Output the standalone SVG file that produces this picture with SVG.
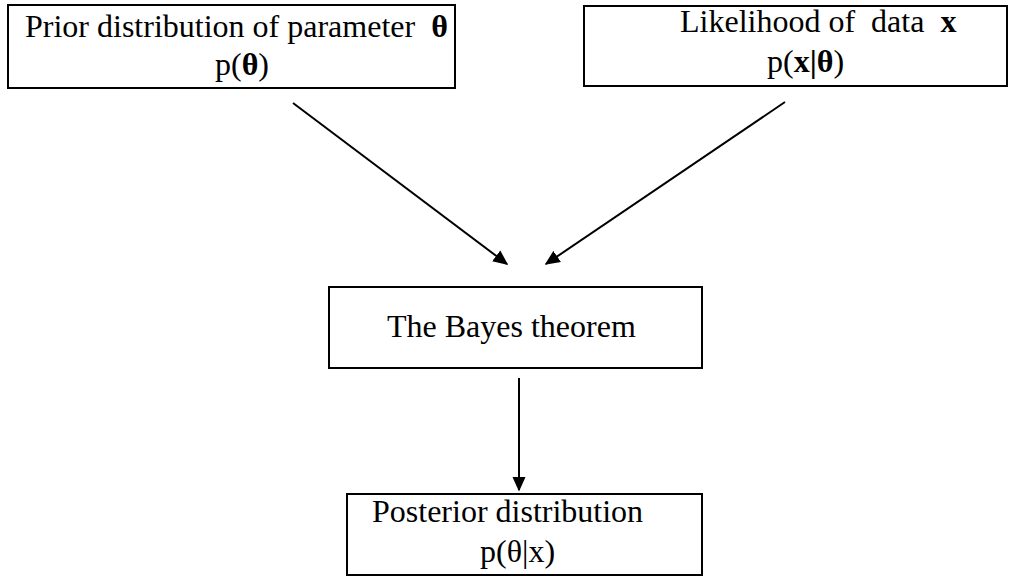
<svg xmlns="http://www.w3.org/2000/svg" width="1009" height="576" viewBox="0 0 1009 576">
<defs>
<style>
.box{fill:#fff;stroke:#000;stroke-width:2}
.t{font-family:"Liberation Serif","Times New Roman",serif;font-size:32px;fill:#000}
.b{font-weight:bold}
.c{stroke:#000;stroke-width:2;fill:none}
</style>
<marker id="ah" viewBox="0 0 10 10" refX="9" refY="5" markerWidth="15" markerHeight="15" markerUnits="userSpaceOnUse" orient="auto">
<path d="M0,0.5 L10,5 L0,9.5 z" fill="#000"/>
</marker>
</defs>
<rect width="1009" height="576" fill="#fff"/>
<g id="prior">
<rect class="box" x="8" y="5" width="447" height="83"/>
<text class="t" x="25" y="37" xml:space="preserve">Prior distribution of parameter  <tspan class="b">θ</tspan></text>
<text class="t" x="215" y="75">p(<tspan class="b">θ</tspan>)</text>
</g>
<g id="likelihood">
<rect class="box" x="584" y="6" width="423" height="80"/>
<text class="t" x="680" y="32" xml:space="preserve">Likelihood of  data  <tspan class="b">x</tspan></text>
<text class="t" x="767" y="72">p(<tspan class="b">x|θ</tspan>)</text>
</g>
<g id="bayes">
<rect class="box" x="329" y="287" width="373" height="81"/>
<text class="t" x="387" y="337">The Bayes theorem</text>
</g>
<g id="posterior">
<rect class="box" x="347" y="494" width="355" height="81"/>
<text class="t" x="372" y="522">Posterior distribution</text>
<text class="t" x="480" y="562">p(θ|x)</text>
</g>
<g id="connectors">
<line class="c" x1="293" y1="103" x2="507" y2="264" marker-end="url(#ah)"/>
<line class="c" x1="785" y1="102" x2="546" y2="264" marker-end="url(#ah)"/>
<line class="c" x1="519" y1="378" x2="519" y2="490" marker-end="url(#ah)"/>
</g>
</svg>
